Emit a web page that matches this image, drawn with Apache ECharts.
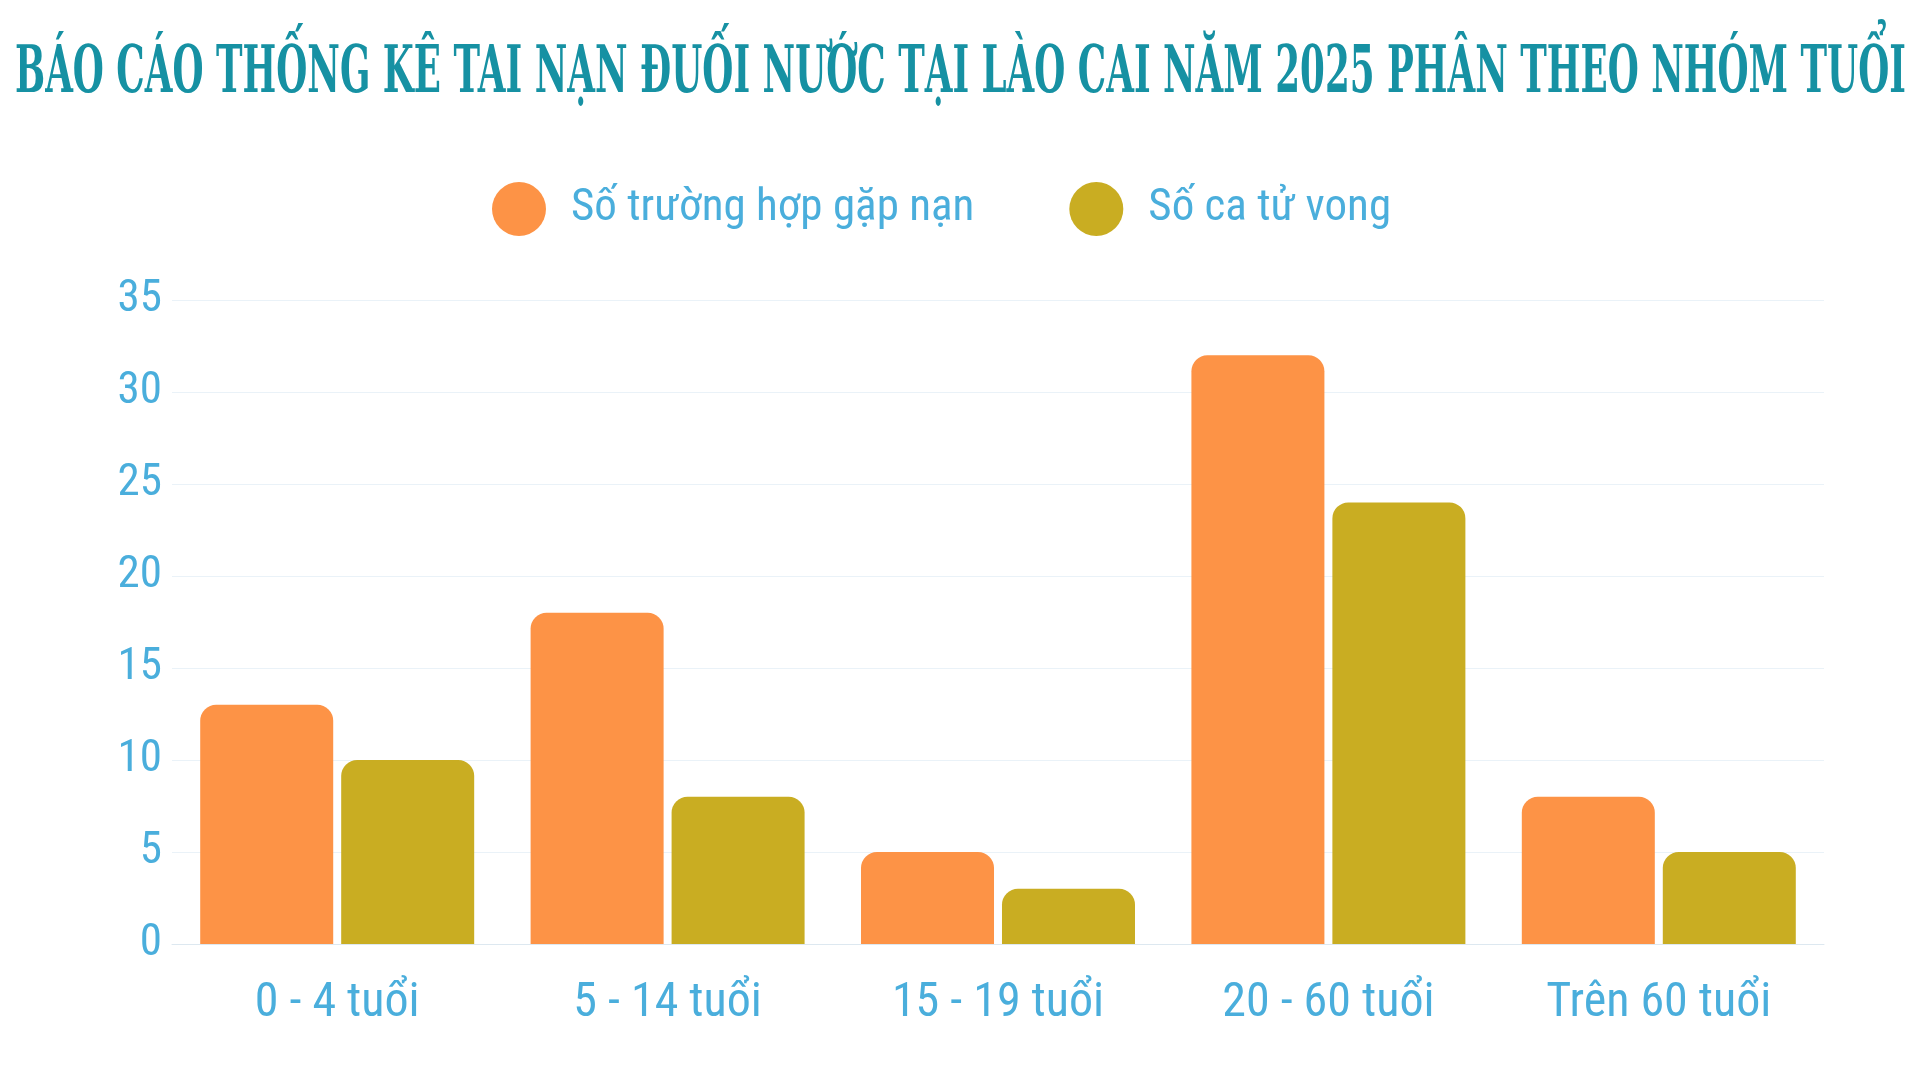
<!DOCTYPE html>
<html>
<head>
<meta charset="utf-8">
<script src="https://cdn.jsdelivr.net/npm/echarts@6/dist/echarts.min.js"></script>
<style>
  html, body { margin: 0; padding: 0; background: #ffffff; }
  #chart { width: 1920px; height: 1080px; }
</style>
</head>
<body>
<div id="chart"></div>
<script>
// data
var categories = ['0 - 4 tuổi', '5 - 14 tuổi', '15 - 19 tuổi', '20 - 60 tuổi', 'Trên 60 tuổi'];
var caseCounts = [13, 18, 5, 32, 8];
var deathCounts = [10, 8, 3, 24, 5];
var seriesNames = ['Số trường hợp gặp nạn', 'Số ca tử vong'];
var titleText = 'BÁO CÁO THỐNG KÊ TAI NẠN ĐUỐI NƯỚC TẠI LÀO CAI NĂM 2025 PHÂN THEO NHÓM TUỔI';

var ctx = document.createElement('canvas').getContext('2d');
function textWidth(font, s) {
    ctx.font = font;
    return ctx.measureText(s).width;
}

// pick the narrowest sans that is really installed
var candidates = ['Liberation Sans Narrow', 'Noto Sans Condensed', 'Roboto Condensed',
    'Open Sans Condensed', 'DejaVu Sans Condensed', 'Liberation Sans'];
var probe = 'mmmmwwwlli 0123456789';
var narrowName = 'sans-serif';
var best = 1e9;
candidates.forEach(function (name) {
    var w1 = textWidth('40px "' + name + '", monospace', probe);
    var w2 = textWidth('40px monospace', probe);
    if (Math.abs(w1 - w2) > 0.5 && w1 < best) {
        best = w1;
        narrowName = name;
    }
});
var narrow = '"' + narrowName + '", sans-serif';

// font size that gives a string the width it has in the reference
function sizeFor(s, target) {
    return Math.round(100 * target / textWidth('100px ' + narrow, s));
}
var xLabelSize = sizeFor(categories[0], 164);
var yLabelSize = sizeFor('35', 44);
var legendSize = sizeFor(seriesNames[0], 405);

var titleFont = 'bold 66px "DejaVu Serif Condensed", "DejaVu Serif", serif';
var titleScale = 1891 / textWidth(titleFont, titleText);

var chart = echarts.init(document.getElementById('chart'));
var option = {
    backgroundColor: '#ffffff',
    animation: false,
    graphic: [{
        type: 'text',
        x: 15,
        y: 75,
        scaleX: titleScale,
        scaleY: 1,
        style: {
            text: titleText,
            font: titleFont,
            fill: '#1691a3',
            textVerticalAlign: 'middle'
        }
    }],
    legend: {
        left: 487,
        top: 177,
        icon: 'circle',
        itemWidth: 54,
        itemHeight: 54,
        itemGap: 95,
        data: seriesNames,
        textStyle: {
            fontFamily: narrow,
            fontSize: legendSize,
            color: '#4aaedc',
            padding: [0, 0, 0, 20]
        }
    },
    grid: {
        left: 172,
        right: 96,
        top: 300,
        bottom: 136
    },
    xAxis: {
        type: 'category',
        data: categories,
        axisTick: { show: false },
        axisLine: { lineStyle: { color: '#dde8f0', width: 1 } },
        axisLabel: {
            interval: 0,
            margin: 36,
            fontFamily: narrow,
            fontSize: xLabelSize,
            color: '#4aaedc'
        }
    },
    yAxis: {
        type: 'value',
        min: 0,
        max: 35,
        interval: 5,
        axisLine: { show: false },
        axisTick: { show: false },
        splitLine: { lineStyle: { color: '#eaf2f8', width: 1 } },
        axisLabel: {
            margin: 10,
            fontFamily: narrow,
            fontSize: yLabelSize,
            color: '#4aaedc'
        }
    },
    series: [{
        name: seriesNames[0],
        type: 'bar',
        data: caseCounts,
        barWidth: 133,
        barGap: '6%',
        itemStyle: { color: '#fd9346', borderRadius: [16, 16, 0, 0] }
    }, {
        name: seriesNames[1],
        type: 'bar',
        data: deathCounts,
        barWidth: 133,
        barGap: '6%',
        itemStyle: { color: '#c9ad22', borderRadius: [16, 16, 0, 0] }
    }]
};
chart.setOption(option);
</script>
</body>
</html>
